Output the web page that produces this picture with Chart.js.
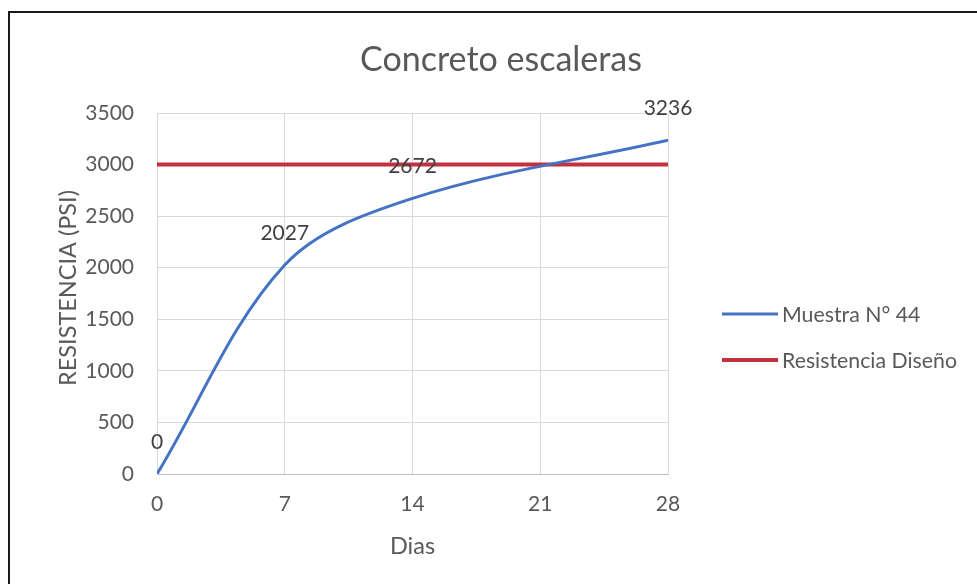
<!DOCTYPE html>
<html>
<head>
<meta charset="utf-8">
<script src="https://cdn.jsdelivr.net/npm/chart.js@4"></script>
<style>
  html, body { margin: 0; padding: 0; background: #ffffff; }
  #wrap { position: relative; width: 977px; height: 584px; overflow: hidden; }
  #chart { position: absolute; left: 0; top: 0; }
  #frame {
    position: absolute; left: 8px; top: 11px; width: 980px; height: 590px;
    border-top: 2px solid #1a1a1a; border-left: 2px solid #1a1a1a;
    pointer-events: none;
  }
</style>
</head>
<body>
<div id="wrap">
  <canvas id="chart" width="977" height="584"></canvas>
  <div id="frame"></div>
</div>
<script>
// Curing age (days) and measured compressive strength (psi)
const days = [0, 7, 14, 28];
const strengthValues = [0, 2027, 2672, 3236];

// Design strength reference line
const designDays = [0, 28];
const designValues = [3000, 3000];

// Axis ticks
const xTicks = [0, 7, 14, 21, 28];
const yTicks = [0, 500, 1000, 1500, 2000, 2500, 3000, 3500];

const seriesNames = ['Muestra N° 44', 'Resistencia Diseño'];
const chartTitle = 'Concreto escaleras';
const xTitle = 'Dias';
const yTitle = 'RESISTENCIA (PSI)';

const FONT = 'Lato, "Open Sans", sans-serif';
const TEXT = '#595959';
const BLUE = '#4472C4';
const RED = '#C5303F';

const toPoints = (xs, ys) => xs.map((x, i) => ({ x: x, y: ys[i] }));

// Title, legend, axis title and point labels drawn on the chart canvas
const decorPlugin = {
  id: 'decor',
  afterDatasetsDraw(chart) {
    const ctx = chart.ctx;
    ctx.save();

    // value labels above each measured point
    const meta = chart.getDatasetMeta(0);
    ctx.font = '21px ' + FONT;
    ctx.fillStyle = '#404040';
    ctx.textAlign = 'center';
    ctx.textBaseline = 'middle';
    meta.data.forEach((pt, i) => {
      ctx.fillText(String(strengthValues[i]), pt.x, pt.y - 32);
    });

    // chart title
    ctx.font = '34px ' + FONT;
    ctx.fillStyle = TEXT;
    ctx.fillText(chartTitle, 501, 60);

    // vertical axis title
    ctx.save();
    ctx.translate(68, 288);
    ctx.rotate(-Math.PI / 2);
    ctx.font = '23.5px ' + FONT;
    ctx.fillText(yTitle, 0, 0);
    ctx.restore();

    // legend
    ctx.textAlign = 'left';
    ctx.font = '21.3px ' + FONT;
    const rows = [314, 360];
    chart.data.datasets.forEach((ds, i) => {
      const y = rows[i];
      ctx.strokeStyle = ds.borderColor;
      ctx.lineWidth = ds.borderWidth;
      ctx.lineCap = 'butt';
      ctx.beginPath();
      ctx.moveTo(722, y);
      ctx.lineTo(778, y);
      ctx.stroke();
      ctx.fillStyle = TEXT;
      ctx.fillText(ds.label, 782, y + 1);
    });
    ctx.restore();
  }
};

new Chart(document.getElementById('chart'), {
  type: 'scatter',
  data: {
    datasets: [
      {
        label: seriesNames[0],
        data: toPoints(days, strengthValues),
        showLine: true,
        borderColor: BLUE,
        backgroundColor: BLUE,
        borderWidth: 3,
        pointRadius: 0,
        tension: 0.34
      },
      {
        label: seriesNames[1],
        data: toPoints(designDays, designValues),
        showLine: true,
        borderColor: RED,
        backgroundColor: RED,
        borderWidth: 4,
        pointRadius: 0,
        tension: 0
      }
    ]
  },
  options: {
    responsive: false,
    animation: false,
    events: [],
    layout: { padding: { left: 20, top: 113, right: 309, bottom: 20 } },
    plugins: {
      legend: { display: false },
      title: { display: false },
      tooltip: { enabled: false }
    },
    scales: {
      x: {
        type: 'linear',
        min: 0,
        max: 28,
        afterBuildTicks(scale) { scale.ticks = xTicks.map(v => ({ value: v })); },
        afterFit(scale) { scale.height = 90; },
        grid: { color: '#d9d9d9', lineWidth: 1, drawTicks: false },
        border: { color: '#bfbfbf', width: 1 },
        ticks: {
          padding: 18, color: TEXT, font: { family: FONT, size: 21 },
          callback: v => String(v)
        },
        title: {
          display: true, text: xTitle, color: TEXT,
          font: { family: FONT, size: 23.5 }, padding: { top: 0, bottom: 3 }
        }
      },
      y: {
        type: 'linear',
        min: 0,
        max: 3500,
        afterBuildTicks(scale) { scale.ticks = yTicks.map(v => ({ value: v })); },
        afterFit(scale) { scale.width = 137; },
        grid: { color: '#d9d9d9', lineWidth: 1, drawTicks: false },
        border: { color: '#d9d9d9', width: 1 },
        ticks: {
          padding: 23, color: TEXT, font: { family: FONT, size: 21 },
          callback: v => String(v)
        },
        title: { display: false }
      }
    }
  },
  plugins: [decorPlugin]
});
</script>
</body>
</html>
